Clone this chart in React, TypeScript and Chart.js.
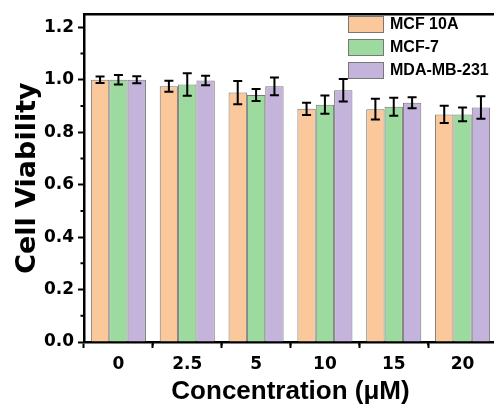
import React, { useEffect, useRef } from "react";
import { Chart, registerables } from "chart.js";

Chart.register(...registerables);

const categories = ["0", "2.5", "5", "10", "15", "20"];
const seriesLabels = ["MCF 10A", "MCF-7", "MDA-MB-231"];
const mcf10a = [1.0, 0.975, 0.951, 0.889, 0.888, 0.868];
const mcf10aErr = [0.012, 0.021, 0.044, 0.023, 0.04, 0.033];
const mcf7 = [1.0, 0.982, 0.942, 0.905, 0.897, 0.868];
const mcf7Err = [0.018, 0.043, 0.023, 0.035, 0.034, 0.026];
const mda = [1.0, 0.997, 0.975, 0.96, 0.912, 0.894];
const mdaErr = [0.013, 0.018, 0.034, 0.043, 0.021, 0.043];
const colors = ["#FAC89B", "#9DDA9F", "#C4B3DB"];
const yMinorTicks = [0.1, 0.3, 0.5, 0.7, 0.9, 1.1];

const errors = [mcf10aErr, mcf7Err, mdaErr];

const decorPlugin = {
  id: "decor",
  afterDatasetsDraw(chart: any) {
    const { ctx, chartArea, scales } = chart;
    const y = scales.y;
    const x = scales.x;
    ctx.save();
    // error bars
    ctx.strokeStyle = "#000";
    ctx.lineWidth = 2;
    chart.data.datasets.forEach((ds: any, i: number) => {
      const meta = chart.getDatasetMeta(i);
      meta.data.forEach((bar: any, j: number) => {
        const v = ds.data[j];
        const e = errors[i][j];
        const yt = y.getPixelForValue(v + e);
        const yb = y.getPixelForValue(v - e);
        const cx = bar.x;
        ctx.beginPath();
        ctx.moveTo(cx, yt);
        ctx.lineTo(cx, yb);
        ctx.moveTo(cx - 4.5, yt);
        ctx.lineTo(cx + 4.5, yt);
        ctx.moveTo(cx - 4.5, yb);
        ctx.lineTo(cx + 4.5, yb);
        ctx.stroke();
      });
    });
    // frame top & right
    ctx.lineWidth = 2.5;
    ctx.beginPath();
    ctx.moveTo(chartArea.left, chartArea.top);
    ctx.lineTo(chartArea.right, chartArea.top);
    ctx.lineTo(chartArea.right, chartArea.bottom);
    ctx.stroke();
    // minor ticks
    ctx.lineWidth = 2;
    ctx.beginPath();
    yMinorTicks.forEach((v) => {
      const py = y.getPixelForValue(v);
      ctx.moveTo(chartArea.left, py);
      ctx.lineTo(chartArea.left - 3.5, py);
    });
    const n = categories.length;
    for (let k = 1; k < n; k++) {
      const px = (x.getPixelForValue(k - 1) + x.getPixelForValue(k)) / 2;
      ctx.moveTo(px, chartArea.bottom);
      ctx.lineTo(px, chartArea.bottom + 3.5);
    }
    ctx.stroke();
    // legend
    const bx = 348;
    const by = 16;
    const rowH = 23;
    ctx.font = "bold 16px 'Liberation Sans', Arial, sans-serif";
    ctx.textBaseline = "middle";
    ctx.textAlign = "left";
    seriesLabels.forEach((lab, i) => {
      const top = by + i * rowH;
      ctx.fillStyle = colors[i];
      ctx.fillRect(bx, top, 36, 17);
      ctx.strokeStyle = "#777";
      ctx.lineWidth = 1;
      ctx.strokeRect(bx + 0.5, top + 0.5, 35, 16);
      ctx.fillStyle = "#000";
      ctx.fillText(lab, bx + 42, top + 9);
    });
    ctx.restore();
  },
};

export default function App() {
  const ref = useRef<HTMLCanvasElement | null>(null);
  useEffect(() => {
    if (!ref.current) return;
    const values = [mcf10a, mcf7, mda];
    const chart = new Chart(ref.current, {
      type: "bar",
      data: {
        labels: categories,
        datasets: seriesLabels.map((lab, i) => ({
          label: lab,
          data: values[i],
          backgroundColor: colors[i],
          borderColor: "#777",
          borderWidth: 1,
          categoryPercentage: 0.8,
          barPercentage: 1.0,
        })),
      },
      options: {
        animation: false,
        responsive: true,
        maintainAspectRatio: false,
        layout: { padding: { top: 11, left: 0, right: 0, bottom: 0 } },
        plugins: { legend: { display: false }, tooltip: { enabled: false } },
        scales: {
          x: {
            afterFit: (s: any) => {
              s.height = 68;
            },
            grid: {
              drawOnChartArea: false,
              tickLength: 6,
              tickColor: "#000",
              tickWidth: 2,
            },
            border: { display: true, color: "#000", width: 2.5 },
            ticks: {
              color: "#000",
              padding: 6,
              font: { family: "'DejaVu Sans'", weight: "bold", size: 17 },
            },
            title: {
              display: true,
              text: "Concentration (μM)",
              color: "#000",
              font: { family: "'Liberation Sans'", weight: "bold", size: 26 },
              padding: { top: 0, bottom: 3 },
            },
          },
          y: {
            min: 0,
            max: 1.25,
            afterFit: (s: any) => {
              s.width = 84;
            },
            grid: {
              drawOnChartArea: false,
              tickLength: 6,
              tickColor: "#000",
              tickWidth: 2,
            },
            border: { display: true, color: "#000", width: 2.5 },
            ticks: {
              stepSize: 0.2,
              includeBounds: false,
              color: "#000",
              padding: 4,
              font: { family: "'DejaVu Sans'", weight: "bold", size: 17 },
              callback: (v: any) => Number(v).toFixed(1),
            },
            title: {
              display: true,
              text: "Cell Viability",
              color: "#000",
              font: { family: "'DejaVu Sans'", weight: "bold", size: 27 },
              padding: { top: 12, bottom: 0 },
            },
          },
        },
      },
      plugins: [decorPlugin],
    });
    return () => chart.destroy();
  }, []);
  return (
    <div
      style={{
        position: "fixed",
        left: 0,
        top: 0,
        width: 494,
        height: 410,
        overflow: "hidden",
        background: "#fff",
      }}
    >
      <div style={{ position: "relative", width: 497, height: 410 }}>
        <canvas ref={ref} />
      </div>
    </div>
  );
}
